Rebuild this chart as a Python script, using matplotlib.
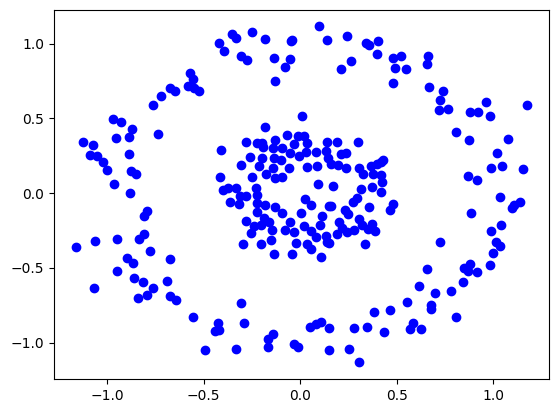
import matplotlib
matplotlib.use("Agg")
import matplotlib.pyplot as plt
import numpy as np

# outer ring
outer_x = [-0.420, -0.394, -0.352, -0.332, -0.570, -0.554, -0.580, -0.549, -0.523, -0.674,
           -0.648, -0.720, -0.762, -0.969, -0.927, -0.870, -0.736, -0.953, -0.886, -1.124,
           -1.073, -1.088, -1.052, -1.021, -1.000, -0.886, -0.876, -0.850, -0.964, -0.881,
           -0.793, -0.808, -1.161, -1.062, -0.948, -0.834, -0.808, -0.777, -0.896, -0.865,
           -0.674, -0.948, -0.860, -0.813, -0.762, -1.067, -0.689, -0.839, -0.793, -0.674,
           -0.642, -0.554, -0.425, -0.440, -0.420, -0.492, -0.306, -0.290, -0.332, -0.166,
           -0.140, -0.166, -0.031, -0.010, 0.052, 0.083, 0.109, 0.150, 0.150, 0.254,
           0.306, 0.280, 0.347, 0.383, 0.435, 0.466, 0.554, 0.585, 0.570, 0.627,
           0.679, 0.679, 0.617, 0.699, 0.782, 0.808, 0.658, 0.845, 0.850, 0.881,
           0.870, 0.917, 0.984, 1.000, 1.016, 1.036, 0.725, 0.886, 1.041, 0.990,
           1.036, 1.140, 1.109, 1.098, 0.870, 0.917, 0.990, 1.047, 1.155, 1.021,
           0.876, 1.078, 0.808, 1.176, 0.964, 0.984, 0.881, 0.922, 0.741, 0.725,
           0.720, 0.767, 0.668, 0.663, 0.658, 0.482, 0.523, 0.492, 0.549, 0.482,
           0.404, 0.399, 0.342, 0.358, 0.244, 0.140, 0.098, 0.264, 0.212, -0.052,
           -0.078, -0.130, -0.047, -0.041, -0.135, -0.181, -0.249, -0.306, -0.275]
outer_y = [1.003, 0.950, 1.064, 1.037, 0.803, 0.763, 0.716, 0.702, 0.682, 0.702,
           0.682, 0.649, 0.589, 0.495, 0.475, 0.428, 0.395, 0.368, 0.375, 0.341,
           0.321, 0.254, 0.247, 0.207, 0.154, 0.261, 0.147, 0.127, 0.060, 0.000,
           -0.120, -0.154, -0.361, -0.321, -0.308, -0.308, -0.274, -0.388, -0.435, -0.468,
           -0.441, -0.522, -0.569, -0.595, -0.635, -0.635, -0.589, -0.702, -0.682, -0.689,
           -0.716, -0.829, -0.870, -0.923, -0.916, -1.050, -0.736, -0.870, -1.043, -0.977,
           -0.943, -1.030, -1.010, -1.030, -0.896, -0.876, -0.863, -0.903, -1.050, -1.043,
           -1.130, -0.903, -0.896, -0.796, -0.930, -0.783, -0.729, -0.870, -0.910, -0.910,
           -0.749, -0.776, -0.622, -0.669, -0.656, -0.829, -0.508, -0.595, -0.502, -0.475,
           -0.522, -0.528, -0.482, -0.401, -0.328, -0.355, -0.328, -0.134, -0.214, -0.254,
           -0.027, -0.060, -0.080, -0.100, 0.114, 0.087, 0.167, 0.181, 0.161, 0.268,
           0.355, 0.361, 0.408, 0.589, 0.609, 0.515, 0.542, 0.542, 0.682, 0.622,
           0.555, 0.562, 0.709, 0.916, 0.863, 0.903, 0.916, 0.836, 0.829, 0.736,
           1.017, 0.930, 1.003, 0.990, 1.050, 1.023, 1.117, 0.883, 0.829, 0.896,
           0.843, 0.749, 1.017, 1.023, 0.903, 1.030, 1.077, 0.916, 0.890]

# inner ring
inner_x = [0.010, -0.181, -0.067, -0.010, 0.021, -0.280, -0.223, -0.197, -0.130, -0.192,
           -0.140, -0.093, -0.031, 0.036, 0.140, 0.192, 0.301, -0.409, -0.259, -0.197,
           -0.135, -0.098, -0.052, -0.005, 0.031, 0.083, 0.135, 0.212, 0.238, -0.306,
           -0.212, -0.140, -0.057, 0.036, 0.088, 0.145, 0.161, 0.197, 0.238, 0.306,
           0.368, 0.420, 0.430, 0.399, -0.415, -0.249, -0.176, -0.130, -0.093, 0.326,
           0.378, 0.420, 0.425, -0.399, -0.373, -0.332, -0.228, 0.093, 0.171, 0.316,
           0.373, 0.420, -0.311, -0.280, -0.223, -0.363, -0.316, -0.223, -0.181, 0.295,
           0.275, 0.358, 0.026, 0.057, 0.150, 0.161, -0.130, 0.005, 0.114, 0.233,
           0.249, -0.223, -0.093, 0.306, 0.373, 0.482, 0.466, -0.280, -0.187, -0.238,
           -0.202, -0.161, -0.052, 0.104, 0.202, 0.218, 0.280, 0.321, 0.352, 0.389,
           -0.254, -0.145, -0.078, -0.031, 0.021, 0.057, 0.083, 0.135, 0.192, 0.244,
           -0.295, -0.202, -0.150, -0.021, 0.036, 0.140, 0.337, 0.057, 0.150, -0.135,
           -0.041, 0.109]
inner_y = [0.515, 0.441, 0.388, 0.381, 0.381, 0.341, 0.334, 0.334, 0.355, 0.308,
           0.301, 0.301, 0.328, 0.334, 0.341, 0.341, 0.341, 0.288, 0.241, 0.234,
           0.234, 0.221, 0.268, 0.247, 0.274, 0.274, 0.281, 0.261, 0.268, 0.187,
           0.181, 0.167, 0.167, 0.174, 0.181, 0.234, 0.194, 0.187, 0.167, 0.167,
           0.181, 0.207, 0.221, 0.194, 0.107, 0.107, 0.127, 0.100, 0.107, 0.127,
           0.127, 0.120, 0.074, 0.020, 0.033, 0.033, 0.033, 0.060, 0.047, 0.027,
           0.040, 0.007, -0.020, -0.020, -0.013, -0.060, -0.074, -0.067, -0.080, -0.033,
           -0.060, -0.094, -0.040, -0.080, -0.087, -0.087, -0.094, -0.134, -0.154, -0.114,
           -0.140, -0.127, -0.134, -0.174, -0.207, -0.074, -0.114, -0.187, -0.167, -0.221,
           -0.214, -0.194, -0.194, -0.214, -0.194, -0.234, -0.247, -0.214, -0.241, -0.254,
           -0.268, -0.247, -0.247, -0.261, -0.221, -0.254, -0.294, -0.288, -0.274, -0.261,
           -0.341, -0.341, -0.314, -0.334, -0.341, -0.328, -0.341, -0.375, -0.334, -0.408,
           -0.408, -0.428]

fig = plt.figure(figsize=(5.59, 4.13), dpi=100)
ax = fig.add_axes([0.0966, 0.0823, 0.886, 0.893])

x = np.array(outer_x + inner_x)
y = np.array(outer_y + inner_y)
ax.scatter(x, y, c="blue")

ax.set_xlim(-1.275, 1.290)
ax.set_ylim(-1.244, 1.224)
ax.set_xticks([-1.0, -0.5, 0.0, 0.5, 1.0])
ax.set_yticks([-1.0, -0.5, 0.0, 0.5, 1.0])

fig.savefig("out.png", dpi=100)
